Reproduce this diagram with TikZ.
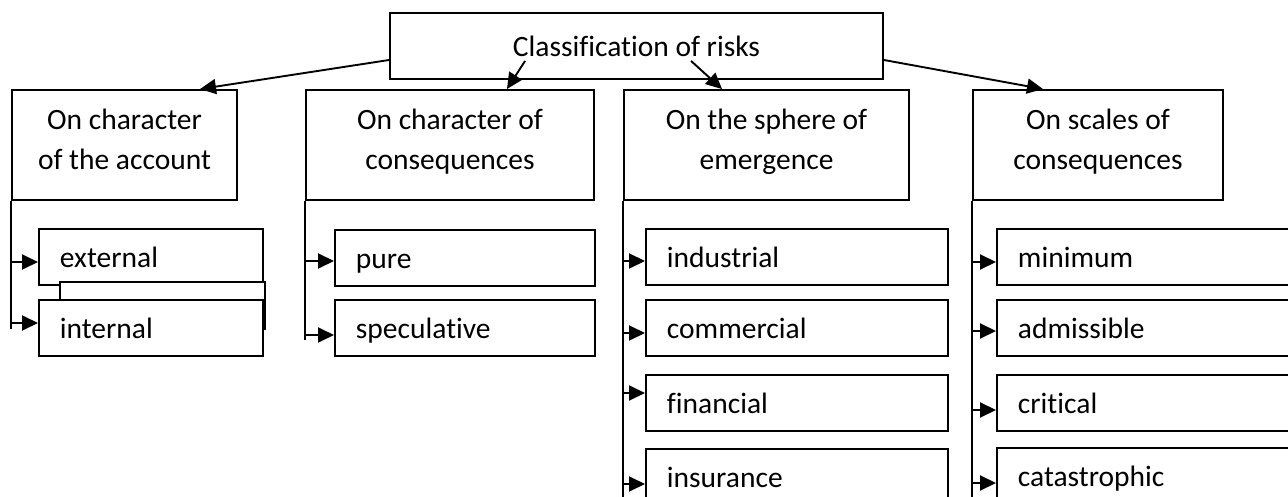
\documentclass[tikz,border=0pt]{standalone}
\usepackage{fontspec}
\setmainfont{Carlito}[Ligatures=NoCommon]
\usetikzlibrary{arrows.meta,calc}
\newcommand{\hiline}{\rule{0pt}{26pt}}
\newcommand{\loline}{\rule[-16pt]{0pt}{16pt}}
\tikzset{
  box/.style={draw, line width=1.9pt, inner sep=0pt},
  head/.style={box, minimum width=493pt, minimum height=66pt},
  group/.style={box, minimum width=#1, minimum height=110pt, align=center},
  item/.style={box, fill=white, anchor=north west, minimum height=56pt,
    inner xsep=21pt, text width=#1, align=left, text height=26pt, text depth=4pt},
  link/.style={line width=1.9pt, -{Triangle[length=16pt,width=15pt]}},
  stem/.style={line width=1.9pt}
}
\begin{document}
\begin{tikzpicture}[x=1pt, y=-1pt, font=\fontsize{29.5}{40}\selectfont]
\clip (0,0) rectangle (1288,497);
\fill[white] (0,0) rectangle (1288,497);
\node[head] (risks) at (636.5,46) {Classification of risks};
\node[group=225pt] (acct) at (124.5,145) {\hiline On character\\of the account\loline};
\node[group=288pt] (cons) at (450,145) {\hiline On character of\\consequences\loline};
\node[group=285pt] (sphere) at (766.5,145) {\hiline On the sphere of\\emergence\loline};
\node[group=250pt] (scales) at (1098,145) {\hiline On scales of\\consequences\loline};
% arrows from the title
\draw[link] ($(risks.west)+(0,14)$) -- ($(acct.north)+(75.5,0)$);
\draw[link] ($(risks.south west)+(136,-19)$) -- ($(cons.north)+(57,0)$);
\draw[link] ($(risks.south west)+(302,-19)$) -- ($(sphere.north)+(-44.5,0)$);
\draw[link] ($(risks.east)+(0,14)$) -- ($(scales.north)+(-55,0)$);
% stems
\draw[stem] (acct.south west) -- ++(0,128);
\draw[stem] (cons.south west) -- ++(0,139);
\draw[stem] (sphere.south west) -- ++(0,300);
\draw[stem] (scales.south west) -- ++(0,300);
% first column, with the box hidden behind
\node[item=182pt] (ext) at (38,228) {external};
\node[box, fill=white, anchor=north west, minimum width=205pt, minimum height=47pt] (ghost) at (59,281) {};
\node[item=182pt] (int) at (38,299) {internal};
\foreach \n/\a in {ext/262, int/323}
  \draw[link] (acct.south west |- 0,\a) -- (\n.west |- 0,\a);
\foreach \n/\y/\t/\a in {pure/229/pure/261, spec/299/speculative/335}
  {\node[item=218pt] (\n) at (334,\y) {\t};
   \draw[link] (cons.south west |- 0,\a) -- (\n.west |- 0,\a);}
\foreach \n/\y/\t/\a in {ind/228/industrial/261, com/299/commercial/333,
    fin/374/financial/393, ins/448/insurance/484}
  {\node[item=260pt] (\n) at (645,\y) {\t};
   \draw[link] (sphere.south west |- 0,\a) -- (\n.west |- 0,\a);}
\foreach \n/\y/\t/\a in {mini/228/minimum/262, adm/299/admissible/331,
    crit/374/critical/410, cat/447/catastrophic/483}
  {\node[item=278pt] (\n) at (996,\y) {\t};
   \draw[link] (scales.south west |- 0,\a) -- (\n.west |- 0,\a);}
\end{tikzpicture}
\end{document}
